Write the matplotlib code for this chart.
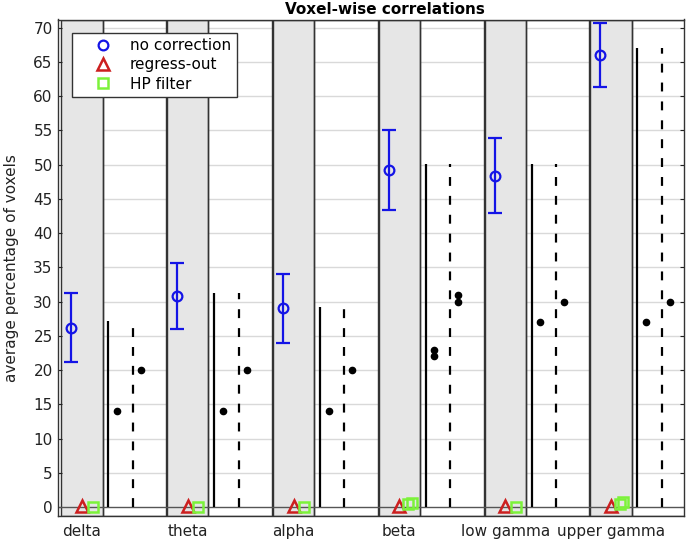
import matplotlib
matplotlib.use("Agg")
import matplotlib.pyplot as plt
from matplotlib.lines import Line2D
import numpy as np

bands = ["delta", "theta", "alpha", "beta", "low gamma", "upper gamma"]

# no correction: mean and error half-width
no_corr_mean = [26.2, 30.8, 29.0, 49.2, 48.4, 66.0]
no_corr_err = [5.0, 4.8, 5.0, 5.8, 5.5, 4.7]

# regress-out and HP filter results (near zero)
regress_out = [0.2, 0.2, 0.2, 0.2, 0.2, 0.2]
hp_filter = [[0.0], [0.0], [0.0], [0.4, 0.6], [0.0], [0.5, 0.7]]

# reference lines (solid / dashed) and their black dots
solid_top = [27.2, 31.2, 29.2, 50.1, 50.1, 67.1]
dashed_top = [27.2, 31.2, 29.2, 50.1, 50.1, 67.1]
solid_dots = [[14], [14], [14], [22, 23], [27], [27]]
dashed_dots = [[20], [20], [20], [30, 31], [30], [30]]

blue_ = '#1414e6'
red_ = '#cc1f1f'
green_ = '#7cf23a'
gray_ = '#e6e6e6'
grid_ = '#d9d9d9'
font_size = 11

fig = plt.figure(figsize=(6.88, 5.42), dpi=100)
ax = fig.add_axes([57.5 / 688, 26 / 542, 626.5 / 688, 496.5 / 542])

ylim = (-1.3, 71.2)
ax.set_xlim(0.768, 6.69)
ax.set_ylim(*ylim)

x = np.arange(1, len(bands) + 1)

for yv in np.arange(5, 75, 5):
    ax.axhline(yv, color=grid_, lw=1, zorder=1)

for xi in x:
    ax.add_patch(plt.Rectangle((xi - 0.195, ylim[0]), 0.39, ylim[1] - ylim[0],
                               facecolor=gray_, edgecolor='#333333', lw=1, zorder=1.5))
    ax.add_patch(plt.Rectangle((xi + 0.195, ylim[0]), 0.6, ylim[1] - ylim[0],
                               facecolor='none', edgecolor='#333333', lw=1, zorder=2))

ax.axhline(0, color='#555555', lw=1, zorder=2.5)

ax.vlines(x + 0.25, 0, solid_top, color='black', lw=1.6, zorder=3)
ax.vlines(x + 0.48, 0, dashed_top, color='black', lw=1.6, linestyles=(0, (4, 4.5)), zorder=3)

for xi, ds, dd in zip(x, solid_dots, dashed_dots):
    ax.plot([xi + 0.33] * len(ds), ds, 'o', color='black', ms=4.5, zorder=4)
    ax.plot([xi + 0.555] * len(dd), dd, 'o', color='black', ms=4.5, zorder=4)

ax.errorbar(x - 0.1, no_corr_mean, yerr=no_corr_err, fmt='o', color=blue_,
            mfc='none', mec=blue_, ms=7, mew=1.6, elinewidth=1.6, capsize=5,
            capthick=1.6, zorder=5)
ax.plot(x, regress_out, '^', color=red_, mfc='none', mec=red_, ms=8, mew=1.8, zorder=5)
for xi, hv in zip(x, hp_filter):
    offs = np.linspace(-0.015, 0.015, len(hv)) if len(hv) > 1 else [0]
    for o, v in zip(offs, hv):
        ax.plot(xi + 0.1 + o, v, 's', color=green_, mfc='none', mec=green_, ms=6.5, mew=1.8, zorder=5)

ax.set_yticks(np.arange(0, 75, 5))
ax.set_xticks(x)
ax.set_xticklabels(bands)
ax.tick_params(axis='y', direction='in', right=True, length=3, labelsize=font_size, colors='#222222')
ax.tick_params(axis='x', length=0, pad=6, labelsize=font_size, colors='#222222')
for s in ax.spines.values():
    s.set_color('#333333')
    s.set_linewidth(1)

ax.set_ylabel('average percentage of voxels', fontsize=font_size, color='#222222', labelpad=10)
fig.text(385 / 688, 1 - 9 / 542, 'Voxel-wise correlations', ha='center', va='center',
         fontsize=11, fontweight='bold')

handles = [
    Line2D([], [], ls='none', marker='o', mfc='none', mec=blue_, ms=7, mew=1.6),
    Line2D([], [], ls='none', marker='^', mfc='none', mec=red_, ms=8, mew=1.8),
    Line2D([], [], ls='none', marker='s', mfc='none', mec=green_, ms=6.5, mew=1.8),
]
leg = ax.legend(handles, ['no correction', 'regress-out', 'HP filter'],
                loc='upper left', bbox_to_anchor=(72 / 688, 1 - 33 / 542),
                bbox_transform=fig.transFigure, borderaxespad=0, fancybox=False,
                edgecolor='#333333', framealpha=1, fontsize=font_size,
                labelspacing=0.27, handlelength=3.4, handletextpad=0.05, borderpad=0.35)
leg.get_frame().set_linewidth(1)
leg.set_zorder(10)

fig.savefig('out.png', dpi=100)
